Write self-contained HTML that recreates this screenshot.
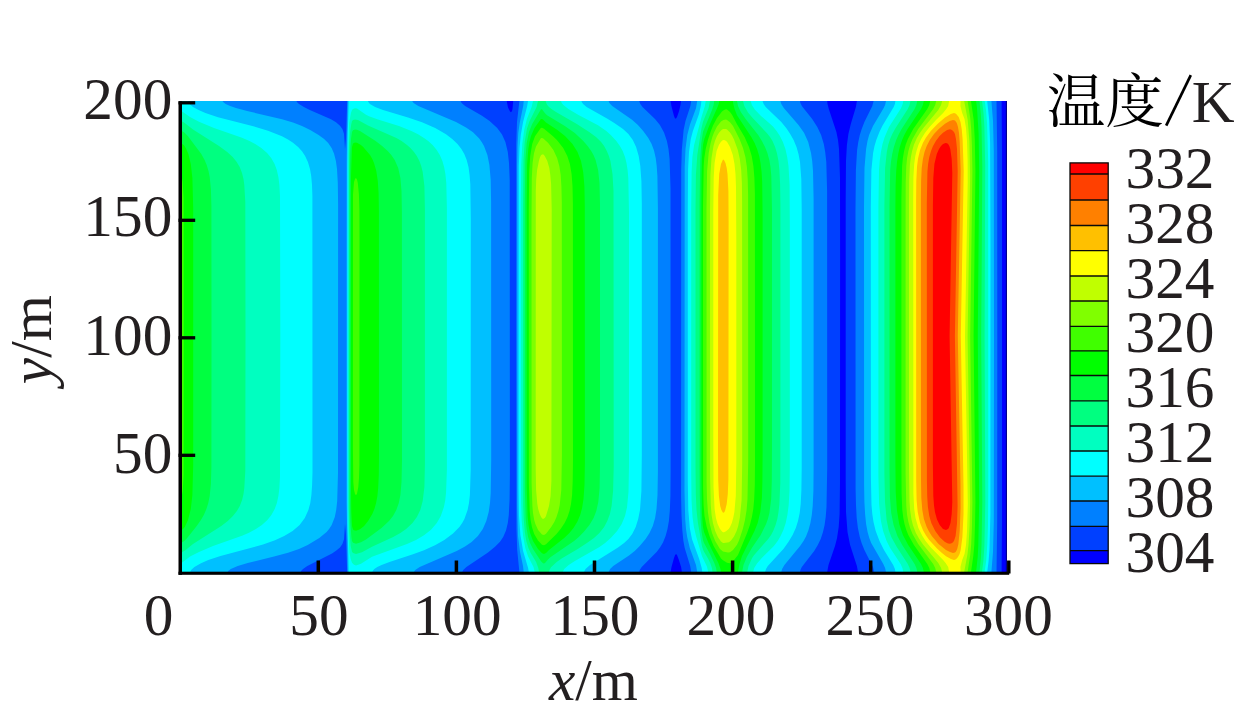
<!DOCTYPE html>
<html><head><meta charset="utf-8"><title>Temperature contour</title>
<style>
html,body{margin:0;padding:0;background:#fff;}
body{width:1236px;height:716px;overflow:hidden;font-family:"Liberation Serif",serif;}
svg{display:block;}
</style></head><body>
<svg width="1236" height="716" viewBox="0 0 1236 716">
<rect width="1236" height="716" fill="#fff"/>
<rect x="180" y="101" width="827" height="471" fill="rgb(0,0,255)"/>
<path fill="#0040ff" fill-rule="evenodd" d="M180,101L506.7,101L508,107.4L510,111.4L511,112.2L512,111L512.5,109L513.2,101L670.6,101L671.4,106L674,116L675,118.4L676,118.6L677,117L679,111.2L680.5,105L681,101L827.2,101L827.5,104L828.8,109L836.4,132L838,140.1L839,149L840,178L840.1,255L840,482L839.6,514L838.7,527L837,538.2L835,546L828.5,565L827.2,572L681.9,572L681.1,567L679,560.2L677,555L676,554.1L675,555.2L674,557.9L671.5,567L670.6,572L180,572ZM856.9,101L1001.6,101L1002,150L1002,337L1002,523L1001.6,572L858,572L856.9,566L850.1,545L847.5,532L846,512L845.7,480L845.7,200L846,160.9L846.9,145L848.4,134L850.8,124L855.9,107Z"/>
<path fill="#0080ff" fill-rule="evenodd" d="M180,101L296.5,101L296.9,102L299,104L303.9,107L309.8,110L331,119.3L336,122.3L340,125.7L342.4,129L344,133.7L345,149L346,138.8L347.2,101L460.6,101L461.6,103L465.1,106L482,115.7L489.6,121L497.2,128L502,134.5L505.4,142L507.8,152L509,163L509.7,180L509.9,474L509.6,499L508.8,515L507.8,523L506,530.5L503.2,537L500,541.7L495,546.8L488,552.5L466.4,567L463.2,570L462.3,572L347.2,572L346,534.2L345,524L344,539.3L342.4,544L340,547.4L336,550.8L332,553.4L307.3,566L303,569L301.1,571L300.7,572L180,572ZM519.4,101L639.2,101L640.3,104L642.5,107L655,119L659.9,125L664,132.4L666.9,141L668.5,149L669.6,159L670.5,188L670.6,472L670.4,496L669.8,511L668.9,521L667.5,529L665.6,536L663,542.5L660,547.6L656.6,552L641.7,567L639.7,570L639.2,572L519.4,572L517.2,550L516.5,529L516.2,336L516.3,143L517,122.1ZM691.2,101L800,101L800.4,103L802,106.2L812,118.8L817.3,127L821.1,135L823.8,144L825.2,152L826.3,162L827.1,191L827.2,468L826.5,507L825.7,517L824.6,525L823,532.1L820.7,539L817.8,545L814.2,551L801.8,567L800.4,570L800,572L691.2,572L690.2,566L684.7,548L683.4,541L682.3,530L681.5,515L681.1,497L681.2,170L681.8,150L683.6,130L685.5,121L690.4,106ZM873.6,101L996.5,101L997.2,151L997.3,336L997.2,522L996.5,572L874.2,572L873,567L864.4,550L861.6,543L859.8,537L857.9,528L856.7,518L856,505L855.6,489L855.5,210L855.9,170L857.1,150L858.3,142L859.8,135L861.7,129L864.4,122L872.3,106Z"/>
<path fill="#00c0ff" fill-rule="evenodd" d="M180,101L222.6,101L223.1,102L225.7,104L230.1,106L236,108L247.1,111L282,119.3L293,122.5L302,126L310.2,130L318.6,135L324.1,139L328.2,143L331.6,148L334,153.6L335.9,161L337,169L337.8,183L338.1,205L338,473L337.2,501L336.2,510L334.8,517L331.7,525L329.1,529L326.6,532L319.3,538L307.7,545L299,549L288,552.7L274,556.6L247.7,563L237.7,566L230.8,569L228.2,571L227.7,572L180,572ZM347.8,101L412.2,101L413.6,103L418.3,106L456,122.1L466,127.4L473,132.2L479,138.2L481.7,142L484,146L487.4,155L489.4,165L490.7,180L491.1,202L491.2,460L490.7,493L490,503L488.7,512L486.3,521L482.8,529L477.9,536L471.6,542L465,546.5L456.7,551L419.7,567L415.2,570L413.9,572L347.8,572L346.6,503L346.6,240L346.7,158ZM523.7,101L608.6,101L609.4,103L612.2,106L632,119.7L637.9,125L643.2,131L648.3,138L651.6,144L654,150.6L655.7,158L656.7,166L657.4,176L657.9,208L657.9,472L657.5,495L656.5,509L655.1,518L652.8,526L649.5,533L645.6,539L639.7,546L634.7,551L629,555.5L613.2,566L610.1,569L608.6,572L523.7,572L523,566L520,551.8L518,536.1L517.3,507L517.2,165L517.6,145L518.3,133L519.7,123L523.2,106ZM697.2,101L780.4,101L781.3,104L783.8,108L798.5,125L804,132.8L808.2,142L811,153L812.2,161L813,171L813.6,199L813.6,469L813.4,491L812.7,506L811.8,515L810.4,523L808.5,530L806,536.4L803.5,541L800.1,546L784.4,565L782.1,569L781.3,572L697.2,572L696,565L689.8,548L687.2,537L686,529L685.2,519L684.5,491L684.7,167L685.5,149L687.3,135L690,124.4L696,108.3ZM886,101L991.4,101L993,121L993.8,151L994,336L993.8,522L993,552L991.4,572L886,572L885.1,568L883.3,564L871.2,543L869.3,538L867.6,532L866.1,524L865.1,514L864.4,502L864.1,485L864,207L864.5,168L866.1,149L867.5,141L869.1,135L873,126L883.7,108L885.1,105Z"/>
<path fill="#00ffff" fill-rule="evenodd" d="M180,101L188,101L189.5,104L193,106.9L198.6,110L205.4,113L218,117.2L252.3,126L268,130.7L282,136.3L288,139.5L293,142.7L298.1,147L302,151.3L305.1,156L307.9,162L310,169L311.2,176L312,185L312.4,196L312.5,472L312.1,485L311.4,495L310.3,503L308.4,510L304.8,518L299.6,525L292.6,531L284.2,536L275,540.2L263,544.5L220.5,556L208.3,560L201,563.2L194.4,567L191.1,570L190.3,572L180,572ZM348.8,101L368,101L368.3,102L369.9,104L375.1,107L383,110L408,117.4L422,122.2L435.2,128L446,134.3L452.2,139L457.5,144L461.4,149L464.3,154L466.7,160L468.5,167L469.6,175L470.3,184L470.8,219L470.7,470L469.9,495L469,503L467.6,510L464.4,519L462.2,523L459.4,527L453,533.6L444.3,540L435,545.3L424,550.3L413,554.3L389.5,562L381.6,565L377.3,567L374.3,569L373,570.4L372.3,572L348.8,572L347.5,523L347.3,444L347.4,167L347.8,132ZM528,101L581.5,101L581.7,102L583.1,104L586.6,107L607,118.4L614.3,123L623,129L628.4,134L632.8,140L636.1,147L638.7,156L640.3,166L641.4,181L641.8,203L641.8,456L641.4,491L640,510L638.2,519L635.7,527L632.2,534L628.4,539L624.1,543L618,547.5L590,565L585.5,569L584,572L528.8,572L528.1,568L523.1,551L520.4,535L519,516L518.6,489L518.8,166L519.5,148L520.8,135L523.1,122L527.2,106ZM701.4,101L762.6,101L763.6,104L765.7,107L781.3,122L786.2,128L790.2,134L793.6,140L796.5,147L798.5,154L800,162L801.3,179L801.7,209L801.7,468L801.4,490L800.7,504L799.7,513L798,521L795.8,528L792.6,535L788.4,542L783.4,549L767.8,566L766,569L765.1,572L702.3,572L701.7,568L699.2,559L692,539.2L689.8,528L688.3,510L687.8,482L687.8,207L688.1,169L689,152L690.8,139L692.9,131L699,113.9L700.8,106ZM895.4,101L987.2,101L989.2,120L990.1,143L990.5,245L990.4,514L989.5,549L988.5,562L987.2,572L895.4,572L894.9,569L893.2,565L884,550L879.5,541L875.7,531L873.5,522L872.3,514L871.5,505L870.9,478L870.8,207L871.4,170L873.1,153L874.5,146L876.3,140L879.4,132L882.3,126L893.7,107L894.9,104Z"/>
<path fill="#00ffc0" fill-rule="evenodd" d="M533,101L561,101L561.7,103L563.4,105L568.4,109L578.5,115L598,125.3L606.3,131L611,135.2L616.3,141L619.9,146L622.7,151L625,157L626.5,163L627.6,170L628.3,178L629,213L629,466L628.5,492L627,507.4L625,516L621.7,524L617.1,531L611,537.8L605.1,543L599.5,547L574.9,561L568.7,565L564.2,569L562.8,572L534.7,572L533.5,567L528,556.2L525.3,548L523.1,536L521.7,521L521.1,503L520.9,474L520.8,203L521.2,165L522.3,144L524.2,130L526.9,119L531.6,107ZM705.7,101L750.7,101L751.9,105L755,109.7L761,115.9L773,126.6L776.6,131L779.9,136L782.9,142L785.4,149L787.2,157L788.5,166L789.6,185L789.8,221L789.8,469L789.5,491L788.7,505L787.4,515L785.7,523L783.4,530L780.6,536L777.7,541L773.9,546L761.8,558L757,563.4L754.2,568L753.2,572L708.2,572L707,566.7L702,556.3L696,536L693.9,527L692.5,517L691.5,500L691.2,473L691.2,208L691.6,172L692.4,157L694.1,145L701.8,116L704.9,106ZM903.2,101L984.6,101L985,103L986.1,111L987.1,124L988.2,162L988.3,491L988,525L987.4,543L986.3,560L984.6,572L903.3,572L902.4,568L900.6,564L890,547.7L886.6,541L883.1,531L880.9,521L879.1,504L878.4,476L878.4,207L879,170L879.7,161L880.9,152L882.5,144L884.7,137L889,127L901,108.2L902.7,104ZM353,109L355,108.2L357,108.6L366,114.8L369,116.3L378,119.5L399,126.1L411.4,131L418,134.3L424,137.9L428.2,141L432.6,145L436.7,150L439.8,155L442.4,161L444.1,167L445.4,174L446.3,183L446.9,208L446.9,470L446.1,492L445.3,500L443.9,507L440.8,516L436.8,523L431,529.7L424,535.3L416,540L407,544.1L372,556.7L361,563.8L356,565.5L354,564.8L352,562.8L350.7,559L349.5,553L348.6,538L348.1,509L348.2,154L349.1,123L351,112.7L352,110.1ZM180,110L190,117.1L199,121.8L214,127.9L242,137.7L249.5,141L255.2,144L261.3,148L267.1,153L271.2,158L274.6,164L276.8,170L278.4,177L279.4,185L280,196L280.3,337L280,477L279.4,488L278.4,496L276.9,503L274.7,509L271.4,515L267.4,520L261.9,525L255.9,529L249,532.7L242,535.8L213,546.1L199,552L190,556.6L180,564.2Z"/>
<path fill="#00ff80" fill-rule="evenodd" d="M538,101L545.8,101L546.2,103L547.2,105L549,107L551.4,109L556,112L576.8,124L589.2,132L596,137L601.1,142L604.1,146L606.8,151L608.9,156L610.4,161L612.5,174L613.5,191L613.7,467L613.1,491L611.6,506L609.9,514L607.3,521L604,527.2L599.4,533L594,537.9L586.9,543L577.8,549L562,558.3L556.7,562L551,567.3L549.5,570L549,572L539,572L538.3,568L536.1,562L530.7,553L528.4,548L526.3,541L524.8,532L523.8,520L523.2,506L523,208L523.5,160L524.7,142L527,128.6L529.6,121L536.6,107ZM710,101L743,101L744.3,106L748,112.5L752,117.3L766.8,133L770,137L772.5,141L775,146.7L776.9,153L778.5,161L779.4,170L780.1,184L780.4,205L780.4,440L780.3,483L779.4,504L778.5,512L777.3,519L775.6,525L773.2,531L771.1,535L768.2,539L754,555.3L752.1,558L748.5,566L747.3,572L712.5,572L711.9,568L710.2,563L708,558.4L703.6,551L702,546.4L697.8,522L696.5,510L695.8,494L695.5,467L695.5,210L695.9,175L697.3,155L701.5,128L703,121.8L708.6,108ZM910.4,101L982,101L982.3,103L983.6,114L984.4,127L985.2,166L984.6,337L985.3,502L984.4,546L983.4,561L982,572L910.5,572L909.6,568L907.8,564L896.8,547L891.3,537L888.7,530L886.6,520L885,502L884.4,474L884.4,205L885.1,168L886.8,152L888.2,145L890,139.2L892.3,134L895.6,128L907.8,109L909.6,105ZM353,120L355,119.4L358,120L368,125.4L396.4,138L401.6,141L407,144.9L410.4,148L414,152L416.8,156L419.4,161L421.2,166L422.7,172L424.4,186L424.9,209L424.9,465L424.4,487L422.7,501L420.3,510L416.9,517L412.5,523L406.1,529L400.4,533L393.2,537L372,546.7L362,552.3L356,554L353,553L352,551.7L350.7,546L349.5,532L348.9,508L349,159L349.4,143L350.1,132L351.3,124L352,121.2ZM180,120.2L184,122.5L193,129.5L219,146L227.2,152L232.7,157L236.7,162L239.7,167L242,173L243.5,179L244.3,185L245.3,202L245.5,336L245.3,471L244.3,488L243.5,494L242.1,500L239.8,506L236.9,511L232.9,516L227.8,521L221.3,526L193,544.1L185,550.4L180,553.4Z"/>
<path fill="#00ff40" fill-rule="evenodd" d="M714.2,101L737,101L738,106.1L740.8,112L746,119.5L758.2,135L761.9,141L765,147L767.4,153L769.3,160L770.5,167L771.3,176L772,210L772,446L771.8,481L771.2,499L769.4,513L767.9,519L766.1,524L760.7,535L752,547.8L746.8,557L743.5,565L742.2,572L716.7,572L716.1,568L714.3,563L710,554.1L704,543L703,540.2L701.6,532L700.6,520L699.8,496L699.6,466L699.6,202L700.2,161L701.2,144L703,131.7L712,110L713.6,105ZM917.2,101L979.5,101L979.6,102L980.9,115L981.5,127L982.3,167L981.2,337L982.3,502L981.5,545L980.9,558L979.5,572L917.3,572L916.4,568L914.6,564L902.2,545L897.4,536L893.6,525L891.2,513L889.9,497L889.5,468L889.5,206L890.2,170L891,161.4L892.2,154L893.9,147L896.2,140L898.4,135L901.6,129L914.6,109L916.4,105ZM541,109.2L542,109.2L545,113.3L547,115.2L564.8,126L574.8,133L583.3,141L587.6,146L591.2,151L593.5,155L595.6,160L598.1,170L599.5,183L600,204L600,466L599.6,488L598.3,502L596.3,511L593.6,518L589.4,525L583.7,532L578.8,537L574.1,541L550.7,557L548,559.4L545,563.1L544,563.6L543,563.2L541,561.3L533,549L530,543.1L528.1,537L526.7,529L525.7,519L524.9,490L524.8,201L525.4,160L526.7,143L529,132L532.2,124ZM180,130L184,132.3L188,136.2L201.3,154L204.6,160L206.7,165L208.5,171L209.7,177L210.9,189L211.4,206L211.5,337L211.4,467L210.9,484L209.7,496L208.3,503L206.4,509L203.8,515L200.9,520L196.7,526L187,538.3L184,541.2L180,543.6ZM355,129.6L357,129.8L360,131.1L375.6,141L382.1,146L387.7,151L391.3,155L394.7,160L398.2,168L400.4,178L401.5,191L401.9,212L402,461L401.5,482L400.4,495L398.8,503L396.3,510L393,516L389,521L381.5,528L366,539.4L361,542.3L356,543.7L353,542.7L352,540.9L351.4,537L350.3,522L349.9,499L349.9,168L350.3,151L351,139.1L352,132.1L353,130.3Z"/>
<path fill="#00ff00" fill-rule="evenodd" d="M719.3,101L732.9,101L733.3,104L734.6,109L737,115.3L751.3,137L754.6,143L757.1,149L759.2,156L760.5,163L761.6,172L762.2,182L762.6,215L762.6,455L762.4,482L761.9,498L760.3,512L757.7,523L754.5,531L742,556.1L739.5,564L738,572L721,572L720.5,569L718.4,563L708.5,543L704,532L702.8,526L701.9,513L701.4,475L701.4,226L701.5,181L701.9,159L703,144.7L704.3,139L708.7,127L717.6,107L718.7,104ZM923.8,101L976.1,101L977,108L978.6,133L979.2,171L977.8,336L979.2,502L978.3,546L977.7,557L976.1,572L923.8,572L922.9,568L921,564L908.2,545L902.9,535L899.2,524L896.9,510L895.7,492L895.4,463L895.4,207L895.6,185L896.2,171L897,162L898.2,154L899.8,147L902.1,140L904.3,135L907.6,129L921,109L922.9,105ZM540.9,119L542,118.9L543,119.5L546,122.5L557.4,130L565,136.1L572.5,144L577.5,152L581,161L583.2,172L584.4,186L584.8,206L584.9,463L584.5,485L583.5,499L582.1,508L580.2,515L577.2,522L573.5,528L569.4,533L564.2,538L549,549.9L546,552.9L544,554L542,553.3L538,549.1L533,540.9L530,532.7L528.5,525L527.6,516L526.7,487L526.7,205L527.1,165L528.3,149L529.5,142L531,136L534.5,128ZM180,142.2L184,145.3L186,148.4L188.4,154L190.8,164L192.4,178L193.2,208L193.2,337L193.2,465L192.4,495L190.8,509L188,520L184.8,527L183,529.1L180,531.2ZM355,142.5L357,142.7L360.9,145L363.2,147L370,155L372.3,159L374,163L376.3,171L377.8,181L378.6,193L378.9,211L379,455L378.8,475L378.2,488L377.4,496L376.1,503L374.4,509L372.3,514L368.1,521L364.1,526L360,529.2L356,530.8L354,530.2L353,529.5L352,526L351.3,512L351,493L351,176.1L352,147.1L353,143.5Z"/>
<path fill="#40ff00" fill-rule="evenodd" d="M930.2,101L971,101L973.7,120L974.8,140L975.4,171L973.6,336L975.4,502L975,525L974.3,545L973.3,556L971,572L930.2,572L929.3,568L927.3,564L913.9,545L908.3,535L906.3,530L904.5,524L903.3,518L902.3,510L901.6,494L901.4,465L901.4,198L902.1,166L902.9,158L904.1,151L905.6,145L907.9,139L913.2,129L927.3,109L929.3,105ZM724.1,110L726,109.2L727,109.5L730,112.1L732,114.8L737,124.3L744.6,137L749,147L751.7,156L753.4,166L754.4,178L754.9,194L755,462L754.8,485L754.2,499L753.3,509L751.9,517L749.9,525L747.1,533L738,554.9L733,561.3L731,563L730,563.3L727,562.8L723,560.3L721,558.5L713.6,546L709.5,536L706.7,527L704.5,516L703.6,505L703.1,488L703,206L703.7,166L704.3,158L705.7,149L707.9,140L710.5,132L713,125.6L717,118L722,111.6ZM540.8,128L542,127.7L544,128.8L552.7,136L556.9,140L563.2,148L567.3,156L569.9,164L571.6,174L572.5,186L572.9,204L573,460L572.7,481L572.1,495L571,504L569.5,511L567.5,517L564.6,523L560.6,529L556.5,534L546,544.2L544,545.2L542,544.7L538,540.6L534.2,534L532,527.3L530.6,520L529.7,511L528.9,484L528.8,210L529.2,172L530.2,156L532.2,144L535,136.2ZM180,171L181.6,176L182.6,182L183.6,198L183.8,336L183.6,475L182.7,491L181.6,497L180,502.4ZM355.9,178L357,179.4L357.8,183L358.9,194L359.4,210L359.5,241L359.4,465L359,478L358.3,487L357,493.8L356,495.2L355,494.1L354,490.1L353.3,482L352.9,448L353,194.6L354,182.1L355,179Z"/>
<path fill="#80ff00" fill-rule="evenodd" d="M936.2,101L967.6,101L970.2,118L971.2,129L971.9,145L972.4,171L970.2,337L972.4,502L971.9,528L971.2,544L970.2,555L967.6,572L936.2,572L935.2,568L933.2,564L918.2,544L912.5,534L910.1,528L908.4,522L907.1,515L906.3,506L905.6,474L905.6,217L905.7,183L906.3,166L907.1,158L908.4,151L910.1,145L912.5,139L918.2,129L933.2,109L935.2,105ZM723.4,120L726,119.6L727,119.9L730,122.3L733,126L739.5,139L743,148L745.4,157L746.9,167L747.7,179L748.1,195L748.2,461L747.5,499L746.6,510L745,520L742.8,529L739,540.5L737,544.7L733,549.9L730,552.2L728,552.6L723,551.6L720,549L715.2,541L712,533L709.5,523L707.9,512L707,499L706.6,482L706.5,209L707.1,171L708.7,153L710.4,144L712.3,137L714,132.4L717,126.4L721,121.6ZM541,138.1L543,138.2L548.2,143L553.4,150L557.1,158L559.3,166L560.7,175L561.4,186L561.8,202L561.9,455L561.3,490L559.7,505L558.4,511L556.5,517L554.3,522L551.2,527L546,533.7L544,535L542,534.6L538.1,530L535.4,524L534.2,520L533,513L532.4,506L531.6,483L531.5,218L531.8,178L532.6,163L534,153.2L536,146.5Z"/>
<path fill="#c0ff00" fill-rule="evenodd" d="M942.1,101L964.2,101L967.7,120L969.4,141L970.1,176L967.6,337L970.1,502L969.6,526L968.6,544L967.5,554L964.2,572L942.1,572L941.1,568L938.3,563L923,544.5L919,538.6L915.9,533L913,525.4L911.4,519L910.1,510L909.5,501L909,470L909,205L909.2,180L909.9,165L910.9,157L912.1,151L914,144.6L916.9,138L920,132.8L924,127.2L938.3,110L941.1,105ZM721.6,130L723,129.1L726,129.1L727,129.6L730,132.6L732,135.5L734,139.4L737.8,150L739.8,159L741.2,170L741.9,183L742.1,201L742.2,463L741.6,500L739.8,518L738.2,526L736.6,531L734,536.4L731,540.6L729,542.2L724,542.9L723,542.9L721,541.4L718,537.2L715.2,531L713,523.3L711.6,515L710.8,505L710.1,477L710,212L710.4,175L711.5,158L713.5,146L715,140.8L717,135.9L719,132.8ZM541.1,155L543,154.3L544,154.9L545,156.5L547.3,161L549.3,168L550.3,175L551.1,184L551.7,209L551.4,481L550.6,496L549,506L546,516L545,517.8L544,518.6L543,518.9L542,518.3L541.1,517L539.7,514L538.2,509L537.3,504L536.1,490L535.7,468L535.8,191L536.2,180L537.1,170L539,160.5L540,157.2Z"/>
<path fill="#ffff00" fill-rule="evenodd" d="M949.1,101L960.6,101L960.4,106L962.2,113L964.5,119L966,128.1L967,141.2L967.6,160L967.7,182L965,337L967.8,504L967,531.8L966,544.9L964.5,554L962.2,560L960.4,567L960.6,572L949.1,572L948.2,567L945.6,563L943.1,560L930.4,547L925.6,541L922.4,536L918.4,528L915.5,518L914.2,509L913.4,494L913.2,199L913.4,177L914.2,164L915.3,156L916.5,151L918.4,145L921.2,139L924.9,133L929.6,127L936,119.9L943.1,113L946.3,109L948.2,106ZM723,140L725,140.3L727,141.8L730,146.9L732.8,155L734.5,164L735.5,174L736,187L736.3,239L736.3,463L735.8,496L734.4,512L733.2,518L731.8,523L730,527L728.7,529L726,531.3L724,532.2L723,532.2L722,531.5L720,529.1L717.6,524L716,518.3L714.6,509L713.5,487L713.3,437L713.3,211L713.7,178L714.6,163L716.6,151L719,144.7L721,141.8Z"/>
<path fill="#ffc000" fill-rule="evenodd" d="M950.8,114L954,113L956,113.8L958.7,117L960.5,122L961.7,129L962.6,139L963.7,171L960.8,336L963.5,486L963.5,514L962.4,537L960.7,550L959.6,554L958,557.1L956,559.2L954,560L951,559.1L946,556.2L942,553.1L937,548.6L929,539.7L926,535.5L923,530.2L920,522.7L917.7,512L916.6,500L916.2,481L916.1,201L916.3,181L917,166.7L918,158.7L920,150.3L923,142.8L926,137.5L931,130.8L938,123.5L945,117.5ZM723,159.5L724,159.9L725.5,163L726.7,168L727.5,174L728.4,191L728.6,221L728.4,479L727.8,494L726.7,504L725,510.9L724,512.6L723,512.8L721.4,510L720.2,506L718.9,496L718.2,480L718,451L718.2,195L719.2,174L721,164Z"/>
<path fill="#ff8000" fill-rule="evenodd" d="M949.7,121L953,120L955,120.4L956.8,123L958,127L959,133L959.7,142L960.7,171L957.8,336L960.5,484L960.6,508L959.7,531L958.4,544L957.2,549L956,551.6L955,552.6L953,553L950,552.1L946,550L938.6,544L931.8,536L929,531.6L926.7,527L923.9,519L922.3,510L921.3,498L921,481L920.9,201L921.1,181L921.7,168L922.9,159L924.5,152L926.7,146L929.8,140L934,134.1L939,128.7L945,123.7Z"/>
<path fill="#ff4000" fill-rule="evenodd" d="M947.1,130L950,129.3L952,129.9L954,131.9L955,134.3L956,139.2L957,149L957.7,171L954.9,336L957.6,506L957,523.6L955.6,536L954,541.1L952.2,543L950,543.7L948,543.4L945,541.9L940,537.5L935.2,531L931.3,523L929.3,516L927.9,507L927.2,496L926.9,480L926.8,204L927.4,172L928.1,164L929.3,157L931,151L933,146L936,140.7L939.6,136L943,132.7Z"/>
<path fill="#ff0000" fill-rule="evenodd" d="M945.5,143L947,143.2L948.1,144L949.3,146L950.3,149L951.7,159L952.3,173L949.6,336L952.3,502L951.7,514L950.5,523L948.8,528L948,529.1L946,530.1L943,528.9L939.7,525L937,519.5L935,512.2L934,505.5L933.3,496L932.9,466L932.9,206L933.3,178L934.4,164L936.8,154L939,149.1L941,146.1L943,144.1Z"/>
<rect x="1005.8" y="101" width="1.2" height="471" fill="#000090"/>
<g fill="#000">
<rect x="178.5" y="101.4" width="3.5" height="473.4"/>
<rect x="178.5" y="571.7" width="830.7" height="3.1"/>
<rect x="178.5" y="101.15" width="16.7" height="3.3"/>
<rect x="178.5" y="218.65" width="16.7" height="3.3"/>
<rect x="178.5" y="336.15" width="16.7" height="3.3"/>
<rect x="178.5" y="453.65" width="16.7" height="3.3"/>
<rect x="316.55" y="560.5" width="3.5" height="13"/>
<rect x="454.65" y="560.5" width="3.5" height="13"/>
<rect x="592.75" y="560.5" width="3.5" height="13"/>
<rect x="730.85" y="560.5" width="3.5" height="13"/>
<rect x="868.95" y="560.5" width="3.5" height="13"/>
<rect x="1007.05" y="560.5" width="3.5" height="13"/>
</g>
<rect x="1070" y="162.9" width="38.2" height="11.4" fill="#ff0000"/>
<rect x="1070" y="174" width="38.2" height="26.3" fill="#ff4000"/>
<rect x="1070" y="200" width="38.2" height="25.8" fill="#ff8000"/>
<rect x="1070" y="225.5" width="38.2" height="25.5" fill="#ffc000"/>
<rect x="1070" y="250.7" width="38.2" height="25.6" fill="#ffff00"/>
<rect x="1070" y="276" width="38.2" height="25.3" fill="#c0ff00"/>
<rect x="1070" y="301" width="38.2" height="25.6" fill="#80ff00"/>
<rect x="1070" y="326.3" width="38.2" height="24.8" fill="#40ff00"/>
<rect x="1070" y="350.8" width="38.2" height="25" fill="#00ff00"/>
<rect x="1070" y="375.5" width="38.2" height="25.6" fill="#00ff40"/>
<rect x="1070" y="400.8" width="38.2" height="25.5" fill="#00ff80"/>
<rect x="1070" y="426" width="38.2" height="25.3" fill="#00ffc0"/>
<rect x="1070" y="451" width="38.2" height="25.5" fill="#00ffff"/>
<rect x="1070" y="476.2" width="38.2" height="25.1" fill="#00c0ff"/>
<rect x="1070" y="501" width="38.2" height="25.6" fill="#0080ff"/>
<rect x="1070" y="526.3" width="38.2" height="24.6" fill="#0040ff"/>
<rect x="1070" y="550.6" width="38.2" height="13.3" fill="#0000ff"/>
<g stroke="#0a0a0a" stroke-width="1.3" fill="none">
<rect x="1070" y="162.9" width="38.2" height="400.7"/>
<path d="M1070,174H1108.2"/>
<path d="M1070,200H1108.2"/>
<path d="M1070,225.5H1108.2"/>
<path d="M1070,250.7H1108.2"/>
<path d="M1070,276H1108.2"/>
<path d="M1070,301H1108.2"/>
<path d="M1070,326.3H1108.2"/>
<path d="M1070,350.8H1108.2"/>
<path d="M1070,375.5H1108.2"/>
<path d="M1070,400.8H1108.2"/>
<path d="M1070,426H1108.2"/>
<path d="M1070,451H1108.2"/>
<path d="M1070,476.2H1108.2"/>
<path d="M1070,501H1108.2"/>
<path d="M1070,526.3H1108.2"/>
<path d="M1070,550.6H1108.2"/>
</g>
<g font-family="'Liberation Serif', serif" font-size="59.3" fill="#231f20">
<text x="172.3" y="119.4" text-anchor="end">200</text>
<text x="172.3" y="236.4" text-anchor="end">150</text>
<text x="172.3" y="355.3" text-anchor="end">100</text>
<text x="172.3" y="473.4" text-anchor="end">50</text>
<text x="158.6" y="634.5" text-anchor="middle">0</text>
<text x="319" y="634.5" text-anchor="middle">50</text>
<text x="457.2" y="634.5" text-anchor="middle">100</text>
<text x="595" y="634.5" text-anchor="middle">150</text>
<text x="731" y="634.5" text-anchor="middle">200</text>
<text x="870" y="634.5" text-anchor="middle">250</text>
<text x="1008.4" y="634.5" text-anchor="middle">300</text>
<text x="593.5" y="700" text-anchor="middle"><tspan font-style="italic">x</tspan>/m</text>
<text transform="translate(51,339.7) rotate(-90)" text-anchor="middle"><tspan font-style="italic">y</tspan>/m</text>
<text x="1170" y="188" text-anchor="middle">332</text>
<text x="1170" y="242.8" text-anchor="middle">328</text>
<text x="1170" y="297.6" text-anchor="middle">324</text>
<text x="1170" y="352.4" text-anchor="middle">320</text>
<text x="1170" y="407.2" text-anchor="middle">316</text>
<text x="1170" y="462" text-anchor="middle">312</text>
<text x="1170" y="516.8" text-anchor="middle">308</text>
<text x="1170" y="571.6" text-anchor="middle">304</text>
<text x="1234.6" y="121.6" text-anchor="end">K</text>
<path d="M1166.2,125.6L1190.8,75.1" stroke="#000" stroke-width="2.7" fill="none"/>
</g>
<g fill="#000">
<text x="1046.8" y="121.6" font-family="'Liberation Serif', 'Noto Serif CJK SC', serif" font-size="58.5" fill="#000">温度</text>
</g>
</svg>
</body></html>
